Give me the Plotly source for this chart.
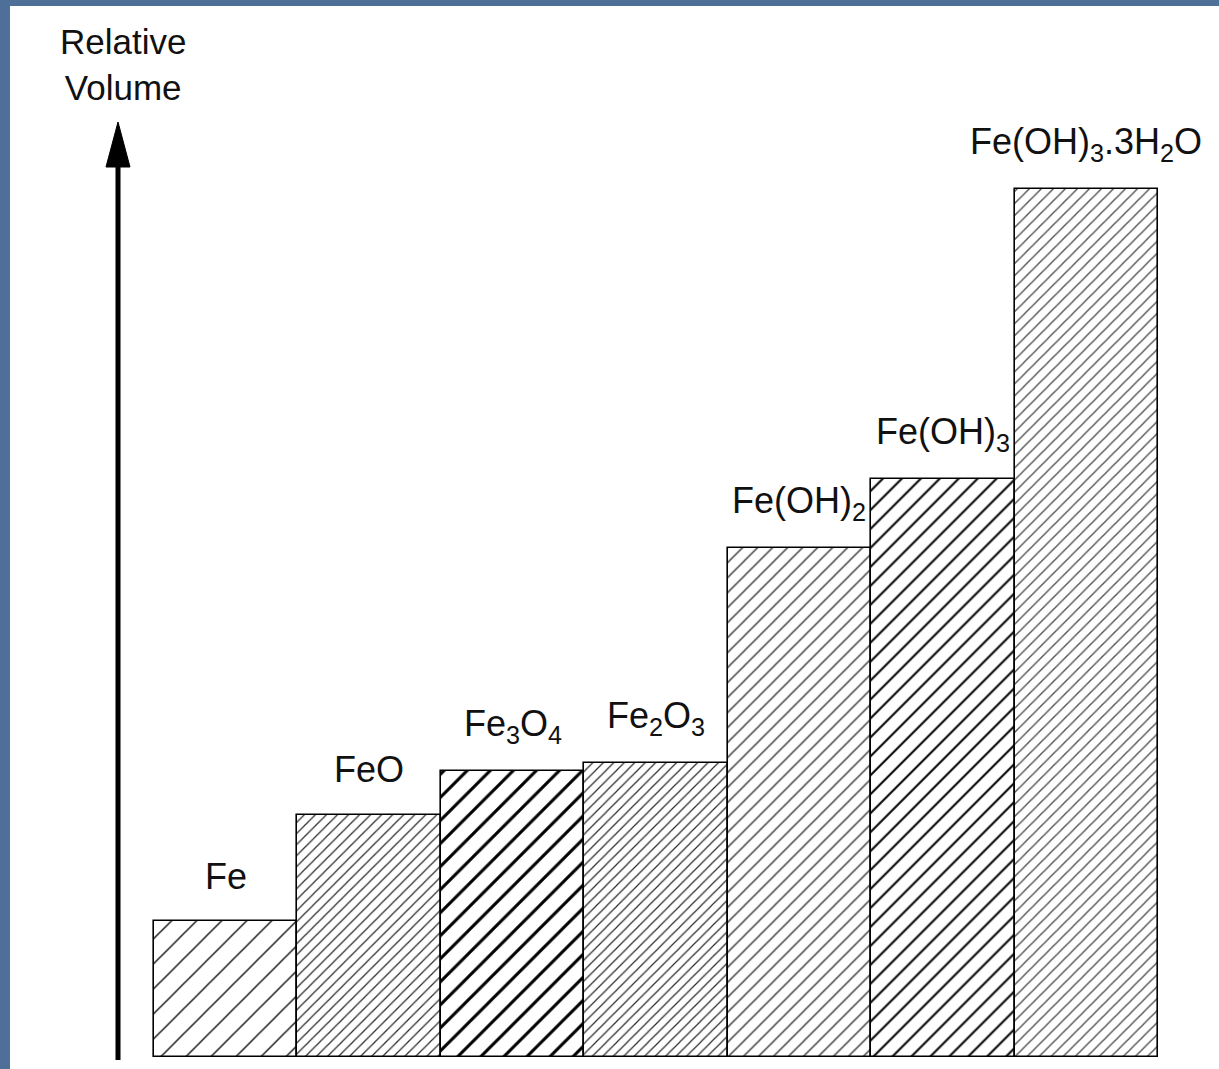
import plotly.graph_objects as go

categories = ["Fe", "FeO", "Fe3O4", "Fe2O3", "Fe(OH)2", "Fe(OH)3", "Fe(OH)3.3H2O"]
labels = ["Fe", "FeO", "Fe<sub>3</sub>O<sub>4</sub>", "Fe<sub>2</sub>O<sub>3</sub>",
          "Fe(OH)<sub>2</sub>", "Fe(OH)<sub>3</sub>", "Fe(OH)<sub>3</sub>.3H<sub>2</sub>O"]
values = [1.0, 1.78, 2.1, 2.16, 3.74, 4.25, 6.38]

# hatch styles per bar (size, solidity, colour)
pat_size = [17.7, 7.8, 16.3, 7.4, 10.6, 13.4, 8.5]
pat_solid = [0.085, 0.16, 0.19, 0.16, 0.12, 0.16, 0.17]
pat_color = ["#1a1a1a", "#2a2a2a", "#000000", "#2a2a2a", "#2a2a2a", "#0a0a0a", "#555555"]

W, H = 1219, 1069
L, T = 10, 6
FONT = "Liberation Sans, Arial, sans-serif"
BLUE = "#4d6f98"

fig = go.Figure()
fig.add_trace(go.Bar(
    x=categories, y=values,
    marker=dict(
        color="white",
        line=dict(color="black", width=1.6),
        pattern=dict(shape="/", size=pat_size, solidity=pat_solid,
                     fgcolor=pat_color, fgopacity=1, bgcolor="white",
                     fillmode="replace"),
    ),
    width=1.0,
    hoverinfo="skip",
))

for c, lab, v in zip(categories, labels, values):
    fig.add_annotation(x=c, y=v, text=lab, showarrow=False, yshift=45,
                       yanchor="middle", xanchor="center",
                       font=dict(family=FONT, size=36, color="#111111"))

def px(x):
    return (x - L) / (W - L)

def py(y):
    return (H - y) / (H - T)

# vertical arrow (axis indicator)
fig.add_shape(type="line", xref="paper", yref="paper",
              x0=px(118), x1=px(118), y0=py(1060), y1=py(160),
              line=dict(color="black", width=5))
fig.add_shape(type="path", xref="paper", yref="paper",
              path=f"M {px(118)},{py(122)} L {px(106)},{py(167)} L {px(130)},{py(167)} Z",
              fillcolor="black", line=dict(color="black", width=1))

fig.add_annotation(xref="paper", yref="paper", x=px(123), y=py(64),
                   text="Relative<br>Volume", showarrow=False,
                   xanchor="center", yanchor="middle", align="center",
                   font=dict(family=FONT, size=35, color="#111111"))

fig.update_layout(
    width=W, height=H,
    margin=dict(l=L, r=0, t=T, b=0),
    paper_bgcolor=BLUE,
    plot_bgcolor="white",
    bargap=0,
    showlegend=False,
    xaxis=dict(range=[-1.504, 6.925], visible=False, fixedrange=True),
    yaxis=dict(range=[-0.088, 7.728], visible=False, fixedrange=True),
)

fig.write_html(
    "out.html",
    config={"displayModeBar": False},
    post_script="document.body.style.margin='0';document.body.style.padding='0';"
                "document.body.style.background='" + BLUE + "';"
                "document.body.style.overflow='hidden';",
)
